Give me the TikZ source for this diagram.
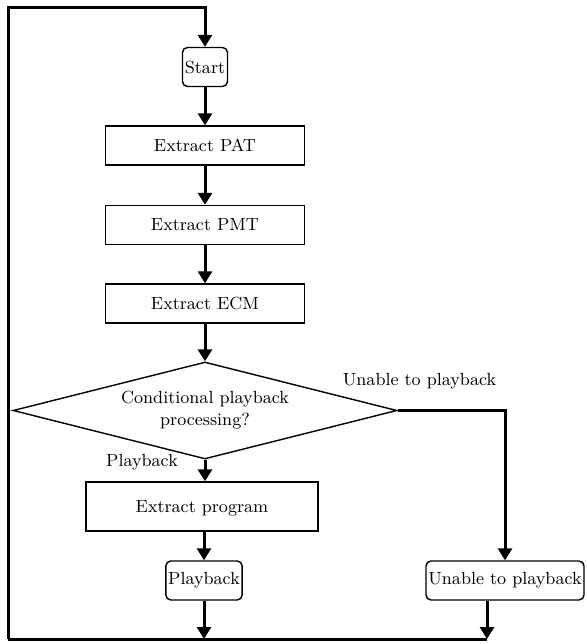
\documentclass[tikz,border=0pt]{standalone}
\usepackage{tikz}
\usetikzlibrary{shapes.geometric,arrows.meta,calc}

\begin{document}
\begin{tikzpicture}[x=0.5pt, y=-0.5pt,
  every node/.style={font=\fontsize{8.8}{11}\selectfont},
  procbox/.style={draw, line width=0.7pt, minimum width=99.5pt, minimum height=19.5pt, inner sep=1pt},
  termbox/.style={draw, line width=0.7pt, rounded corners=2.5pt, minimum height=19.5pt, inner sep=1.2pt},
  decbox/.style={draw, line width=0.7pt, shape=diamond, aspect=4, minimum width=192pt, minimum height=48.5pt, inner sep=0pt, align=center},
  flow/.style={line width=1.5pt, -{Triangle[length=6pt,width=7pt]}},
  loopline/.style={line width=1.5pt},
  lbl/.style={inner sep=0pt}]
  \useasboundingbox (0,0) rectangle (587,644);
  \node[termbox] (start) at (205,67) {Start};
  \node[procbox] (pat) at (205,145.5) {Extract PAT};
  \node[procbox] (pmt) at (205,225) {Extract PMT};
  \node[procbox] (ecm) at (205,303.5) {Extract ECM};
  \node[decbox] (cond) at (205,410.5) {Conditional playback\\processing?};
  \node[procbox, minimum width=116pt, minimum height=24.5pt, text depth=-4pt] (prog) at (202,506.5) {Extract program};
  \node[termbox] (play) at (204,580.5) {Playback};
  \node[termbox] (unable) at (505,580.5) {Unable to playback};
  \node[lbl] (lblno) at (419.5,381) {Unable to playback};
  \node[lbl] (lblyes) at (142,462) {Playback};
  \coordinate (tl) at (8,7);
  \coordinate (bl) at (8,639);
  \coordinate (br) at (487,639);
  \draw[flow] (start) -- (pat);
  \draw[flow] (pat) -- (pmt);
  \draw[flow] (pmt) -- (ecm);
  \draw[flow] (ecm) -- (cond);
  \draw[flow] (cond.south) -- (cond.south |- prog.north);
  \draw[flow] (play.north |- prog.south) -- (play.north);
  \draw[flow] (cond.east) -| (unable.north);
  \draw[flow] (play.south) -- (play.south |- bl);
  \draw[flow] (br |- unable.south) -- (br);
  \draw[loopline] (br) -- (bl);
  \draw[flow] (bl) -- (tl) -| (start.north);
\end{tikzpicture}
\end{document}
